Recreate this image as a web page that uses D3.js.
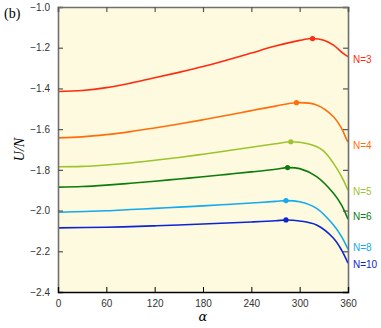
<!DOCTYPE html>
<html><head><meta charset="utf-8">
<script src="https://cdn.jsdelivr.net/npm/d3@7"></script>
<style>body{margin:0;background:#fff}svg{display:block}</style>
</head><body><div id="c"></div>
<script>
const seriesNames = ["N=3","N=4","N=5","N=6","N=8","N=10"];
const seriesColors = ["#ff2a10","#ff6e0a","#9cc42c","#0c7c0c","#12aaf0","#0c24d4"];
const alpha3 = [0,30,60,90,120,150,180,210,240,270,300,316,330,342,354,360];
const u3 = [-1.415,-1.410,-1.396,-1.374,-1.348,-1.321,-1.292,-1.260,-1.226,-1.192,-1.164,-1.155,-1.163,-1.187,-1.228,-1.244];
const alpha4 = [0,30,60,90,120,150,180,210,240,270,296,321,342,352,358.5,360];
const u4 = [-1.643,-1.638,-1.627,-1.612,-1.594,-1.575,-1.554,-1.532,-1.509,-1.487,-1.470,-1.481,-1.539,-1.596,-1.653,-1.664];
const alpha5 = [0,30,60,90,120,150,180,210,240,270,289,310,328,342,352,360];
const u5 = [-1.785,-1.783,-1.776,-1.766,-1.753,-1.739,-1.723,-1.706,-1.689,-1.672,-1.662,-1.672,-1.702,-1.768,-1.833,-1.900];
const alpha6 = [0,30,60,90,120,150,180,210,240,270,285,300,321,342,352,360];
const u6 = [-1.885,-1.882,-1.875,-1.866,-1.856,-1.845,-1.834,-1.822,-1.810,-1.797,-1.789,-1.794,-1.833,-1.915,-1.973,-2.042];
const alpha8 = [0,60,90,120,150,180,210,240,270,283,300,321,342,352,360];
const u8 = [-2.008,-2.001,-1.995,-1.989,-1.983,-1.977,-1.970,-1.963,-1.955,-1.951,-1.957,-1.989,-2.071,-2.128,-2.190];
const alpha10 = [0,60,90,120,150,180,210,240,270,283,300,321,342,352,360];
const u10 = [-2.085,-2.082,-2.079,-2.075,-2.071,-2.066,-2.061,-2.056,-2.050,-2.046,-2.051,-2.071,-2.136,-2.194,-2.258];
const maxAlpha = [316,296,289,285,283,283];
const maxU = [-1.155,-1.470,-1.662,-1.789,-1.951,-2.046];
const labelU = [-1.26,-1.68,-1.905,-2.03,-2.18,-2.265];
const xTicks = [0,60,120,180,240,300,360];
const yTicks = [-1.0,-1.2,-1.4,-1.6,-1.8,-2.0,-2.2,-2.4];

const alphas = [alpha3,alpha4,alpha5,alpha6,alpha8,alpha10];
const us = [u3,u4,u5,u6,u8,u10];

const W=381,H=328;
const m={l:58,r:33,t:7,b:36};
const svg=d3.select("#c").append("svg").attr("width",W).attr("height",H);
const x=d3.scaleLinear().domain([0,360]).range([m.l,W-m.r]);
const y=d3.scaleLinear().domain([-2.4,-1.0]).range([H-m.b,m.t]);

svg.append("rect").attr("x",x(0)).attr("y",y(-1.0)).attr("width",x(360)-x(0)).attr("height",y(-2.4)-y(-1.0)).attr("fill","#fefadf");

const line=d3.line().x(d=>x(d[0])).y(d=>y(d[1])).curve(d3.curveCatmullRom.alpha(0.5));
seriesNames.forEach((n,i)=>{
  const pts=alphas[i].map((a,j)=>[a,us[i][j]]);
  svg.append("path").attr("d",line(pts)).attr("fill","none").attr("stroke",seriesColors[i]).attr("stroke-width",1.6);
  svg.append("circle").attr("cx",x(maxAlpha[i])).attr("cy",y(maxU[i])).attr("r",2.6).attr("fill",seriesColors[i]);
  svg.append("text").attr("x",x(360)+5).attr("y",y(labelU[i])).attr("dy","0.35em")
    .attr("font-family","Liberation Sans, Arial, sans-serif").attr("font-size",10).attr("fill",seriesColors[i]).text(n);
});

// axes
const fmt=d3.format(".1f");
const gl=svg.append("g").attr("transform",`translate(${x(0)},0)`)
  .call(d3.axisLeft(y).tickValues(yTicks).tickSize(-5).tickPadding(8).tickFormat(d=>fmt(d)));
const gr=svg.append("g").attr("transform",`translate(${x(360)},0)`)
  .call(d3.axisRight(y).tickValues(yTicks).tickSize(-5).tickFormat(""));
const gb=svg.append("g").attr("transform",`translate(0,${y(-2.4)})`)
  .call(d3.axisBottom(x).tickValues(xTicks).tickSize(-5).tickPadding(8));
const gt=svg.append("g").attr("transform",`translate(0,${y(-1.0)})`)
  .call(d3.axisTop(x).tickValues(xTicks).tickSize(-5).tickFormat(""));
[gl,gr,gt].forEach(g=>{g.select(".domain").attr("stroke","#707070").attr("stroke-width",1.6);g.selectAll(".tick line").attr("stroke","#555").attr("stroke-width",1.2);});
gb.select(".domain").attr("stroke","#000").attr("stroke-width",1.3);
gb.selectAll(".tick line").attr("stroke","#000").attr("stroke-width",1);
[gl,gb].forEach(g=>g.selectAll(".tick text").attr("font-family","Liberation Sans, Arial, sans-serif").attr("font-size",10).attr("fill","#333"));

svg.append("text").attr("x",x(180)).attr("y",321).attr("text-anchor","middle")
  .attr("font-family","DejaVu Serif, Liberation Serif, serif").attr("font-style","italic").attr("font-size",13).text("α");
svg.append("text").attr("transform",`translate(24,${(y(-1)+y(-2.4))/2}) rotate(-90)`).attr("text-anchor","middle")
  .attr("font-family","Liberation Serif, serif").attr("font-style","italic").attr("font-size",14).text("U/N");
svg.append("text").attr("x",4).attr("y",18).attr("font-family","Liberation Serif, serif").attr("font-size",14).text("(b)");
</script></body></html>
